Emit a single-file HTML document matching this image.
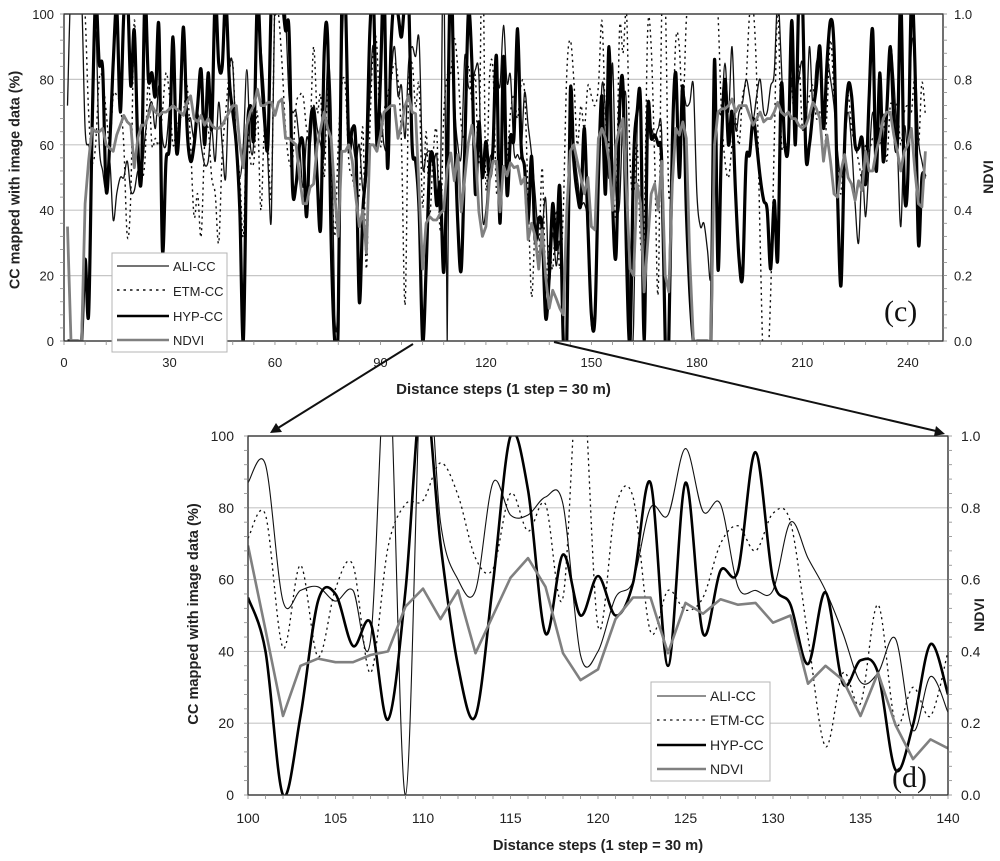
<!DOCTYPE html>
<html>
<head>
<meta charset="utf-8">
<title>CC mapped with image data and NDVI along distance steps</title>
<style>
html,body{margin:0;padding:0;background:#fff}
svg{display:block;font-family:"Liberation Sans",Arial,sans-serif;filter:blur(0.35px)}
</style>
</head>
<body>
<svg id="figure" xmlns="http://www.w3.org/2000/svg" width="1000" height="861" viewBox="0 0 1000 861">
  <defs>
    <clipPath id="clip-c"><rect x="64" y="14" width="879" height="327"/></clipPath>
    <clipPath id="clip-d"><rect x="248" y="436" width="700" height="359"/></clipPath>
  </defs>
  <rect x="0" y="0" width="1000" height="861" fill="#fff"/>
  <g id="chart-c"></g>
  <g id="chart-d"></g>

  <text transform="translate(19.5,180) rotate(-90)" text-anchor="middle" font-size="14.4" font-weight="bold" fill="#222">CC mapped with image data (%)</text>
  <text transform="translate(993,177) rotate(-90)" text-anchor="middle" font-size="14" font-weight="bold" fill="#222">NDVI</text>
  <text x="503.5" y="394" text-anchor="middle" font-size="15" font-weight="bold" fill="#222">Distance steps (1 step = 30 m)</text>

  <text transform="translate(198,614) rotate(-90)" text-anchor="middle" font-size="14.6" font-weight="bold" fill="#222">CC mapped with image data (%)</text>
  <text transform="translate(984,615) rotate(-90)" text-anchor="middle" font-size="14" font-weight="bold" fill="#222">NDVI</text>
  <text x="598" y="850" text-anchor="middle" font-size="14.7" font-weight="bold" fill="#222">Distance steps (1 step = 30 m)</text>

  <g>
    <rect x="112" y="253" width="115" height="99" fill="#fff" stroke="#b4b4b4" stroke-width="1"/>
    <line x1="117" y1="266" x2="169" y2="266" stroke="#222" stroke-width="1.2"/>
    <text x="173" y="271" font-size="13" fill="#222">ALI-CC</text>
    <line x1="117" y1="290" x2="169" y2="290" stroke="#111" stroke-width="1.4" stroke-dasharray="2.5,4"/>
    <text x="173" y="296" font-size="13" fill="#222">ETM-CC</text>
    <line x1="117" y1="316" x2="169" y2="316" stroke="#000" stroke-width="2.6"/>
    <text x="173" y="321" font-size="13" fill="#222">HYP-CC</text>
    <line x1="117" y1="340" x2="169" y2="340" stroke="#808080" stroke-width="2.6"/>
    <text x="173" y="345" font-size="13" fill="#222">NDVI</text>
  </g>
  <text x="884" y="321" font-family="'Liberation Serif',serif" font-size="30" fill="#111">(c)</text>

  <g>
    <rect x="651" y="682" width="119" height="99" fill="#fff" stroke="#b4b4b4" stroke-width="1"/>
    <line x1="657" y1="696" x2="706" y2="696" stroke="#222" stroke-width="1.1"/>
    <text x="710" y="701" font-size="14" fill="#222">ALI-CC</text>
    <line x1="657" y1="720" x2="706" y2="720" stroke="#111" stroke-width="1.3" stroke-dasharray="2.5,4"/>
    <text x="710" y="725" font-size="14" fill="#222">ETM-CC</text>
    <line x1="657" y1="745" x2="706" y2="745" stroke="#000" stroke-width="2.6"/>
    <text x="710" y="750" font-size="14" fill="#222">HYP-CC</text>
    <line x1="657" y1="769" x2="706" y2="769" stroke="#808080" stroke-width="2.6"/>
    <text x="710" y="774" font-size="14" fill="#222">NDVI</text>
  </g>
  <text x="892" y="787" font-family="'Liberation Serif',serif" font-size="30" fill="#111">(d)</text>

  <g>
    <line x1="413" y1="344" x2="278" y2="428" stroke="#111" stroke-width="2"/>
    <polygon points="270,433 276,423 282,432" fill="#111"/>
    <line x1="554" y1="342" x2="936" y2="431" stroke="#111" stroke-width="2"/>
    <polygon points="945,434 934,436 936,426" fill="#111"/>
  </g>
</svg>

<script>
// Panel (c): values per distance step, beginning at step 1. NDVI is read on the 0-1 axis and kept x100.
const topFirstStep = 1;
const topAli = [72,110,105,105,105,65,60,60,95,60,
52,46,55,37,45,50,50,55,46,46,
52,50,62,70,73,65,78,62,60,72,
90,60,75,95,70,68,62,70,60,54,
55,65,55,73,60,50,82,84,60,50,
60,83,60,62,105,90,75,55,38,110,
105,110,100,75,70,70,60,47,62,60,
72,65,60,57,85,70,8,15,85,105,
65,62,55,60,46,50,75,90,60,70,
60,60,80,90,75,78,62,85,90,87,
92,54,57,58,54,57,43,125,0,130,
76,60,57,87,78,78,83,81,39,40,
55,59.5,80,78,96.5,79,81,58,57,57,
76,66,57,45,31.5,34,43.5,18,33,23,
30,5,40,62,58,50,42,42,35,5,
10,45,78,70,50,85,45,42,70,70,
0,5,65,68,0,60,65,62,65,63,
5,0,65,75,55,75,72,73,78,45,
35,36,28,20,60,70,70,85,70,90,
65,70,73,80,75,68,75,80,70,70,
78,82,105,85,60,60,80,75,80,85,
65,90,72,85,85,68,85,80,72,58,
50,60,70,60,42,30,52,38,55,70,
55,65,60,68,90,80,60,35,65,60,
90,88,62,55,50];
const topEtm = [110,110,110,110,110,100,70,55,60,80,
80,70,60,75,75,72,60,32,45,98,
60,50,55,80,60,62,60,70,82,75,
60,65,68,70,78,60,38,45,32,60,
65,50,45,30,57,70,82,85,60,50,
32,65,55,55,70,40,65,60,45,105,
100,85,65,55,55,72,75,75,65,65,
90,70,75,50,78,55,32,60,78,78,
55,50,45,45,65,22,65,90,90,60,
70,75,80,85,80,60,11,75,85,71.5,
78,41,64,38.5,57.5,64,34,69,81,82,
92.5,83.5,66,63,84,73.5,81,55,125,47,
80,83,45.5,57,51.5,55,70,75,68,78.5,
76,44,13.5,34,25.5,53,20,30,22,40,
22,40,82,92,80,60,72,65,78,75,
72,78,98,68,60,50,40,95,88,100,
55,45,60,30,35,95,90,55,15,100,
105,45,60,92,90,70,98,105,110,110,
110,110,110,110,110,100,70,55,50,60,
68,60,75,80,100,102,80,30,-10,-10,
15,60,102,62,60,62,78,60,85,65,
70,75,78,68,70,55,70,92,75,55,
45,60,75,65,60,55,50,60,58,62,
60,60,70,55,72,70,72,60,70,72,
70,80,60,79,69];
const topHyp = [0,0,0,0,0,25,8,65,105,85,
83,46,60,85,102,70,100,108,78,95,
60,50,105,80,82,75,96,28,55,60,
93,58,70,96,65,55,60,72,83,60,
82,65,105,85,84,105,80,70,60,40,
0,60,72,62,105,85,68,60,105,100,
110,105,95,95,47,48,60,60,38,65,
70,50,35,88,92,30,0,5,105,105,
60,65,60,12,40,55,95,105,60,80,
110,53,90,105,100,93,105,105,60,55,
40,0,22,54,56,41.5,48,21,57,115,
70,36,22,59,100,85,45,67,50,61,
50,59,87,36,87,45,62.5,62.5,95.5,60,
53,36.5,56.5,31,37.5,34,7,19.5,42,28,
47,0,0,76,55,45,42,65,35,8,
7,50,75,45,90,43,26,70,78,25,
0,55,70,72,0,70,62,63,60,55,
0,0,60,82,50,78,40,15,0,0,
0,0,0,0,86,22,60,80,60,70,
45,25,20,55,57,68,60,50,43,40,
22,43,25,78,60,60,98,60,105,105,
57,60,70,78,90,65,85,98,90,45,
17,60,78,75,60,59,62,48,75,95,
52,82,55,70,90,68,60,105,47,50,
105,85,30,50,50];
const topNdvi = [35,0,0,0,0,42,55,65,64,64,
65,60,59,58,63,66,69,67,66,53,
62,66,66,69,72,70,69,70,70,71,
72,71,70,69,73,75,68,67,69,66,
68,66,65,65,66,68,70,72,72,60,
53,66,70,72,77,72,72,73,73,69,
73,74,62,62,61,60,50,42,42,47,
48,60,65,70,65,62,45,32,58,58,
60,55,44,35,40,27,60,60,58,63,
70,71,72,72,62,66,72,75,70,69.5,
46,22,36,38,37,37,39,40,52.5,57.5,
49,57,39.5,50,60.5,66,58,39.5,32,35,
49,55,55,39.5,53.5,50.5,54.5,53,53.5,48,
50,31,36,32,22,34,19.5,10,15.5,13,
10,8,40,58,60,55,50,45,50,35,
34,62,65,62,55,40,60,65,68,45,
22,20,48,42,15,30,45,48,40,55,
20,15,48,65,63,67,62,25,0,0,
0,0,0,0,60,70,71,71,72,74,
70,72,72,72,69,66,68,70,67,68,
68,70,73,70,69,70,68,68,66,65,
66,69,73,71,68,55,63,55,45,44,
52,57,50,48,43,49,46,58,52,52,
58,62,68,70,70,63,58,52,58,60,
65,52,42,41,58];

// Panel (d): values per distance step, beginning at step 100.
const zoomFirstStep = 100;
const zoomAli = [87,92,54,57,58,54,57,43,125,0,130,
76,60,57,87,78,78,83,81,39,40,
55,59.5,80,78,96.5,79,81,58,57,57,
76,66,57,45,31.5,34,43.5,18,33,23];
const zoomEtm = [71.5,78,41,64,38.5,57.5,64,34,69,81,82,
92.5,83.5,66,63,84,73.5,81,55,125,47,
80,83,45.5,57,51.5,55,70,75,68,78.5,
76,44,13.5,34,25.5,53,20,30,22,40];
const zoomHyp = [55,40,0,22,54,56,41.5,48,21,57,115,
70,36,22,59,100,85,45,67,50,61,
50,59,87,36,87,45,62.5,62.5,95.5,60,
53,36.5,56.5,31,37.5,34,7,19.5,42,28];
const zoomNdvi = [69.5,46,22,36,38,37,37,39,40,52.5,57.5,
49,57,39.5,50,60.5,66,58,39.5,32,35,
49,55,55,39.5,53.5,50.5,54.5,53,53.5,48,
50,31,36,32,22,34,19.5,10,15.5,13];

// Axis labels
const ccTicks = [0,20,40,60,80,100];
const ndviTicks = ['0.0','0.2','0.4','0.6','0.8','1.0'];
const topXTicks = [0,30,60,90,120,150,180,210,240];
const zoomXTicks = [100,105,110,115,120,125,130,135,140];

const SVGNS = 'http://www.w3.org/2000/svg';

function make(tag, attrs, parent) {
  const el = document.createElementNS(SVGNS, tag);
  for (const k in attrs) el.setAttribute(k, attrs[k]);
  parent.appendChild(el);
  return el;
}

function linearScale(d0, d1, r0, r1) {
  return function (v) { return r0 + (v - d0) * (r1 - r0) / (d1 - d0); };
}

function smoothPath(pts) {
  let d = 'M' + pts[0][0].toFixed(1) + ' ' + pts[0][1].toFixed(1);
  for (let i = 0; i < pts.length - 1; i++) {
    const p0 = pts[Math.max(i - 1, 0)], p1 = pts[i], p2 = pts[i + 1], p3 = pts[Math.min(i + 2, pts.length - 1)];
    const c1x = p1[0] + (p2[0] - p0[0]) / 6, c1y = p1[1] + (p2[1] - p0[1]) / 6;
    const c2x = p2[0] - (p3[0] - p1[0]) / 6, c2y = p2[1] - (p3[1] - p1[1]) / 6;
    d += 'C' + c1x.toFixed(1) + ' ' + c1y.toFixed(1) + ' ' + c2x.toFixed(1) + ' ' + c2y.toFixed(1) + ' ' + p2[0].toFixed(1) + ' ' + p2[1].toFixed(1);
  }
  return d;
}

function straightPath(pts) {
  return pts.map(function (p, i) { return (i ? 'L' : 'M') + p[0].toFixed(1) + ' ' + p[1].toFixed(1); }).join('');
}

function drawChart(cfg) {
  const root = document.getElementById(cfg.id);
  const sx = linearScale(cfg.xMin, cfg.xMax, cfg.left, cfg.right);
  const sy = linearScale(0, 100, cfg.bottom, cfg.top);

  // gridlines
  ccTicks.forEach(function (v) {
    if (v === 0 || v === 100) return;
    const grid = make('line', {x1: cfg.left, x2: cfg.right, y1: sy(v), y2: sy(v), stroke: '#c6c6c6', 'stroke-width': cfg.gridWidth}, root);
    
    
  });

  // series
  const seriesDefs = [
    {key: 'ali', values: cfg.ali, color: '#111', width: cfg.thin, smooth: true, dash: null},
    {key: 'etm', values: cfg.etm, color: '#111', width: cfg.dot, smooth: true, dash: '2.2,3.6'},
    {key: 'hyp', values: cfg.hyp, color: '#000', width: cfg.thick, smooth: true, dash: null},
    {key: 'ndvi', values: cfg.ndvi, color: '#808080', width: cfg.ndviWidth, smooth: false, dash: null}
  ];
  const seriesGroup = make('g', {'clip-path': 'url(#' + cfg.clip + ')'}, root);
  
  
  seriesDefs.forEach(function (s) {
    const pts = s.values.map(function (v, i) { return [sx(cfg.firstStep + i), sy(v)]; });
    const attrs = {d: s.smooth ? smoothPath(pts) : straightPath(pts), fill: 'none', stroke: s.color, 'stroke-width': s.width, 'stroke-linejoin': 'round'};
    if (s.dash) attrs['stroke-dasharray'] = s.dash;
    const path = make('path', attrs, seriesGroup);
    
    
  });

  // frame
  const frame = make('rect', {x: cfg.left, y: cfg.top, width: cfg.right - cfg.left, height: cfg.bottom - cfg.top, fill: 'none', stroke: '#333', 'stroke-width': 1.4}, root);
  
  

  // minor y ticks, both sides
  for (let v = 0; v <= 100; v += 4) {
    const tl = make('line', {x1: cfg.left - 4, x2: cfg.left, y1: sy(v), y2: sy(v), stroke: '#888', 'stroke-width': 0.8}, root);
    
    
    const tr = make('line', {x1: cfg.right, x2: cfg.right + 4, y1: sy(v), y2: sy(v), stroke: '#888', 'stroke-width': 0.8}, root);
    
    
  }

  // x ticks
  for (let s = cfg.xMin; s <= cfg.xMax; s += cfg.xMinor) {
    const tx = make('line', {x1: sx(s), x2: sx(s), y1: cfg.bottom, y2: cfg.bottom + 4, stroke: '#888', 'stroke-width': 0.8}, root);
    
    
  }

  // labels
  ccTicks.forEach(function (v) {
    const t = make('text', {x: cfg.left - cfg.leftGap, y: sy(v) + 5, 'text-anchor': 'end', 'font-size': cfg.labelSize, fill: '#222'}, root);
    t.textContent = v;
    
    
  });
  ndviTicks.forEach(function (label, i) {
    const t = make('text', {x: cfg.right + cfg.rightGap, y: sy(ccTicks[i]) + 5, 'text-anchor': 'start', 'font-size': cfg.labelSize, fill: '#222'}, root);
    t.textContent = label;
    
    
  });
  cfg.xTicks.forEach(function (v) {
    const t = make('text', {x: sx(v), y: cfg.bottom + cfg.xGap, 'text-anchor': 'middle', 'font-size': cfg.labelSize, fill: '#222'}, root);
    t.textContent = v;
    
    
  });
}

drawChart({id: 'chart-c', clip: 'clip-c', left: 64, right: 943, top: 14, bottom: 341, xMin: 0, xMax: 250, xMinor: 6,
  firstStep: topFirstStep, ali: topAli, etm: topEtm, hyp: topHyp, ndvi: topNdvi, xTicks: topXTicks,
  thin: 1.3, dot: 1.4, thick: 3.2, ndviWidth: 2.8, gridWidth: 1.2, labelSize: 13, leftGap: 10, rightGap: 11, xGap: 26});
drawChart({id: 'chart-d', clip: 'clip-d', left: 248, right: 948, top: 436, bottom: 795, xMin: 100, xMax: 140, xMinor: 1,
  firstStep: zoomFirstStep, ali: zoomAli, etm: zoomEtm, hyp: zoomHyp, ndvi: zoomNdvi, xTicks: zoomXTicks,
  thin: 1.1, dot: 1.3, thick: 2.6, ndviWidth: 2.6, gridWidth: 1.1, labelSize: 14, leftGap: 14, rightGap: 13, xGap: 28});
</script>
</body>
</html>
